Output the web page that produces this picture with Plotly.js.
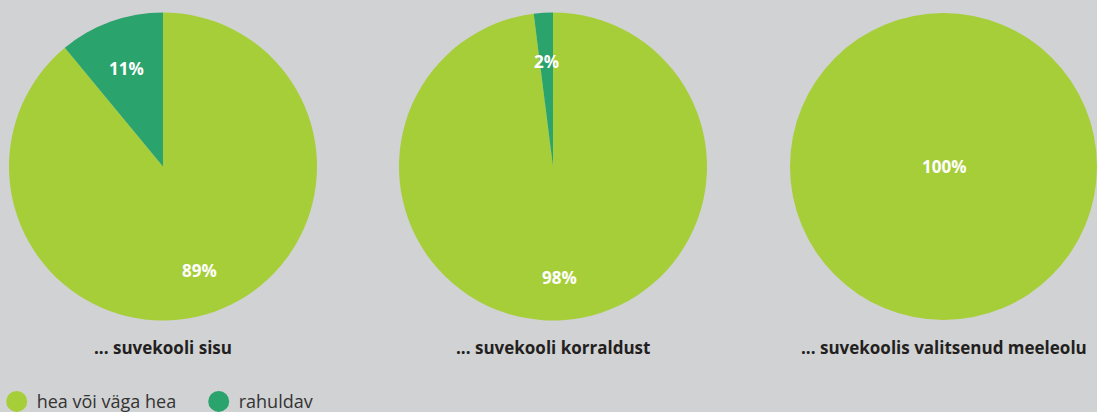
<!DOCTYPE html>
<html><head><meta charset="utf-8">
<script src="https://cdn.plot.ly/plotly-3.0.1.min.js"></script>
<style>html,body{margin:0;padding:0;background:#d1d2d4;}</style>
</head><body>
<div id="chart" style="width:1097px;height:412px;"></div>
<script>
const categories = ["hea või väga hea", "rahuldav"];
const titles = ["... suvekooli sisu", "... suvekooli korraldust", "... suvekoolis valitsenud meeleolu"];
const sisu = [89, 11];
const korraldus = [98, 2];
const meeleolu = [100, 0];
const colors = ["#a6ce39", "#2aa36c"];

const W = 1097, H = 412;
const FONT = "'Open Sans', 'Noto Sans', sans-serif";
const domains = [[9/W, 317/W], [399/W, 707/W], [790/W, 1]];
const ydom = [91/H, 400/H];
const seriesList = [sisu, korraldus, meeleolu];

const data = seriesList.map((vals, i) => ({
  type: "pie",
  labels: categories,
  values: vals,
  sort: false,
  direction: "clockwise",
  rotation: 0,
  marker: {colors: colors, line: {width: 0}},
  textinfo: "none",
  hoverinfo: "label+percent",
  showlegend: false,
  domain: {x: domains[i], y: ydom}
}));

categories.forEach((c, k) => {
  data.push({
    type: "scatter", mode: "markers", x: [null], y: [null], name: c,
    marker: {color: colors[k], size: 16, symbol: "circle", line: {color: colors[k], width: 5}},
    showlegend: true, hoverinfo: "skip"
  });
});

const annotations = [];
seriesList.forEach((vals, i) => {
  const d = domains[i];
  const wpx = (d[1] - d[0]) * W, hpx = (ydom[1] - ydom[0]) * H;
  const r = Math.min(wpx, hpx) / 2;
  const cx = (d[0] + d[1]) / 2, cy = (ydom[0] + ydom[1]) / 2;
  const total = vals.reduce((a, b) => a + b, 0);
  let cum = 0;
  vals.forEach((v) => {
    if (v <= 0) return;
    const mid = (cum + v / 2) / total * 2 * Math.PI;
    cum += v;
    const f = (v >= total) ? 0 : 0.7;
    annotations.push({
      xref: "paper", yref: "paper", xanchor: "center", yanchor: "middle",
      x: cx + f * r * Math.sin(mid) / W,
      y: cy + f * r * Math.cos(mid) / H,
      yshift: (v >= total) ? 0 : -3,
      text: "<b>" + v + "%</b>", showarrow: false,
      font: {family: FONT, size: 17, color: "#ffffff"}
    });
  });
  annotations.push({
    xref: "paper", yref: "paper", xanchor: "center", yanchor: "middle",
    x: cx, y: (H - 347) / H,
    text: "<b>" + titles[i] + "</b>", showarrow: false,
    font: {family: FONT, size: 17, color: "#231f20"}
  });
});

const layout = {
  width: W, height: H,
  margin: {l: 0, r: 0, t: 0, b: 0, autoexpand: false},
  paper_bgcolor: "#d1d2d4",
  plot_bgcolor: "#d1d2d4",
  xaxis: {visible: false}, yaxis: {visible: false},
  showlegend: true,
  annotations: annotations,
  legend: {orientation: "h", x: -0.003, xanchor: "left", y: -0.02, yanchor: "bottom",
    entrywidth: 157, entrywidthmode: "pixels",
    font: {family: FONT, size: 18, color: "#333333"}, bgcolor: "rgba(0,0,0,0)"}
};
Plotly.newPlot("chart", data, layout, {displayModeBar: false});
</script>
</body></html>
